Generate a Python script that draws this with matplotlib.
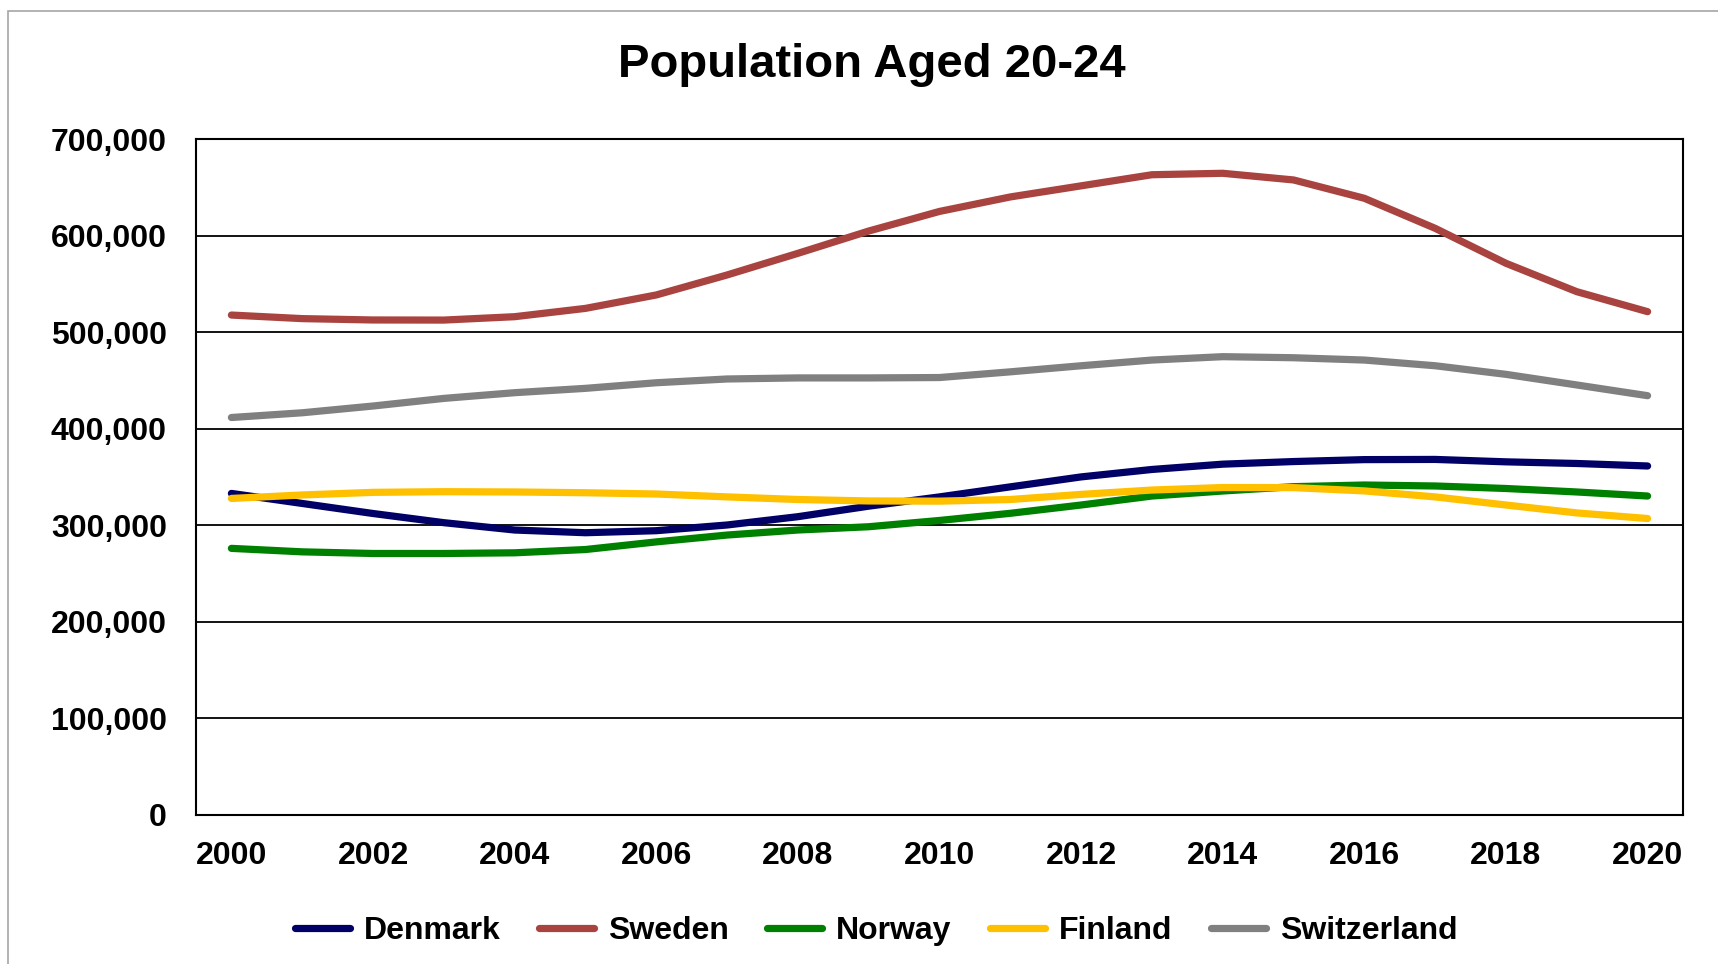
import matplotlib.pyplot as plt
from matplotlib.patches import Rectangle
from matplotlib.ticker import FuncFormatter

plt.rcParams["font.family"] = ["Liberation Sans", "DejaVu Sans"]
plt.rcParams["font.weight"] = "bold"

years = list(range(2000, 2021))
denmark = [333000, 322600, 312200, 302700, 295100, 292300, 294400, 300300, 308900, 319800,
           329400, 339800, 350100, 357800, 363300, 366000, 368000, 368200, 365700, 364000, 361400]
sweden = [517700, 514000, 512600, 512500, 516000, 524600, 538500, 559200, 581600, 604700,
          625000, 640000, 651500, 663000, 664500, 657600, 638600, 607500, 571300, 541900, 521200]
norway = [276100, 272500, 270800, 270800, 271500, 274900, 282800, 289900, 295100, 298500,
          305000, 312400, 321000, 330300, 335500, 340000, 341700, 340700, 338100, 334500, 330300]
finland = [327800, 331400, 334100, 334800, 334500, 333700, 332400, 329400, 326700, 325200,
           325000, 326700, 332000, 336500, 339100, 339000, 335600, 329400, 321000, 312800, 307000]
switzerland = [411600, 416500, 423500, 431400, 437300, 441800, 447600, 451500, 452600, 452600,
               453000, 458900, 465200, 471100, 474600, 473500, 471100, 465200, 456300, 445300, 434200]

series = [
    ("Denmark", denmark, "#000066"),
    ("Sweden", sweden, "#A94340"),
    ("Norway", norway, "#008000"),
    ("Finland", finland, "#FFC000"),
    ("Switzerland", switzerland, "#808080"),
]

W, H = 1718, 964
fig = plt.figure(figsize=(W / 100, H / 100), dpi=100)

# chart-area border (runs off the right/bottom edge of the image)
fig.patches.append(Rectangle((8 / W, -0.1), 1.2, 1.1 - 11 / H, transform=fig.transFigure,
                             fill=False, edgecolor="#A6A6A6", linewidth=1.2))

ax = fig.add_axes([196 / W, 1 - 815 / H, (1683 - 196) / W, (815 - 139) / H])

for name, vals, color in series:
    ax.plot(years, vals, color=color, lw=5.2, solid_capstyle="round",
            solid_joinstyle="round", label=name)

ax.set_xlim(1999.5, 2020.5)
ax.set_ylim(0, 700000)
ax.set_xticks(years[::2])
ax.set_yticks(range(0, 700001, 100000))
ax.yaxis.set_major_formatter(FuncFormatter(lambda v, p: f"{int(v):,}"))
ax.tick_params(axis="y", length=0, pad=21, labelsize=23)
ax.tick_params(axis="x", length=0, pad=19, labelsize=23)
ax.grid(axis="y", color="black", linewidth=1.3)
ax.set_axisbelow(True)
for s in ax.spines.values():
    s.set_color("black")
    s.set_linewidth(1.5)

fig.text(872 / W, 1 - 77 / H, "Population Aged 20-24", ha="center", va="baseline",
         fontsize=34, fontweight="bold")

fig.legend(loc="center", bbox_to_anchor=(876 / W, 1 - 931 / H), ncol=5, frameon=False,
           fontsize=23, handlelength=1.72, handletextpad=0.44, columnspacing=1.2)

fig.savefig("out.png", dpi=100)
